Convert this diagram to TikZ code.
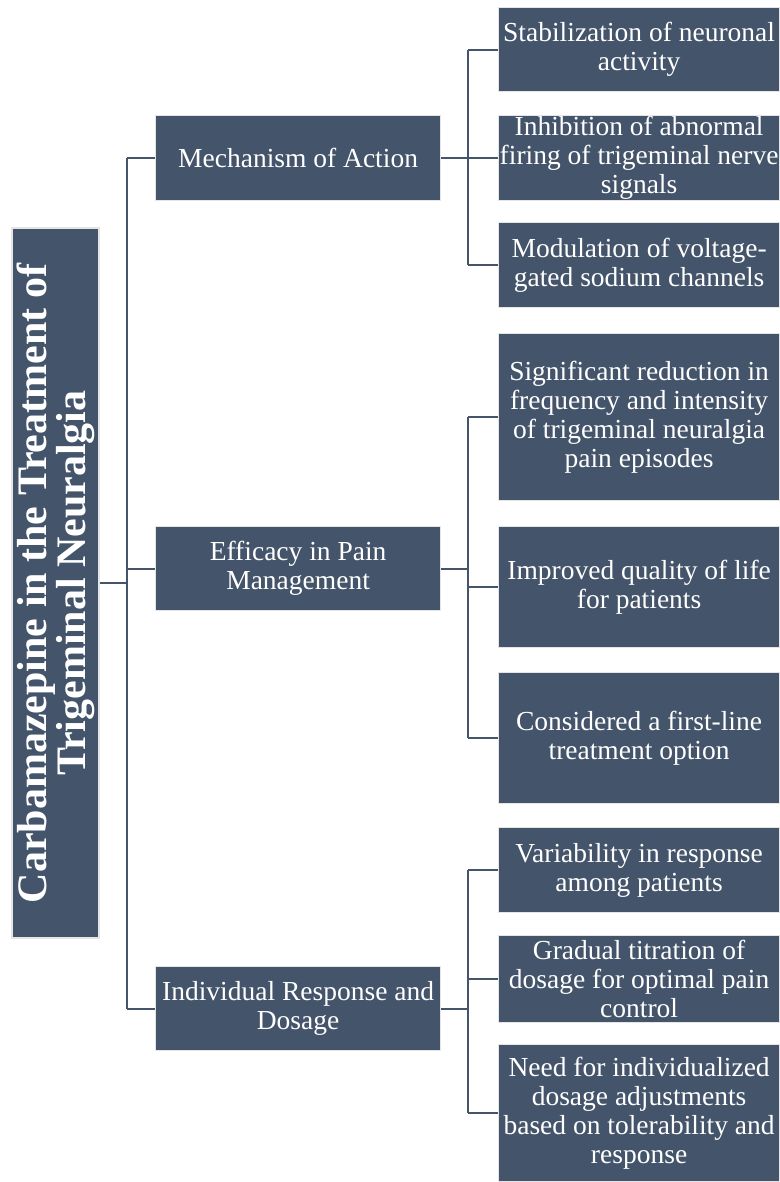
\documentclass[tikz,border=0pt]{standalone}
\usepackage{fontspec}
\setmainfont{Liberation Serif}
\definecolor{boxblue}{HTML}{44546A}
\tikzset{
  box/.style={rectangle, fill=boxblue, draw=gray!20, line width=1.2pt,
    text=white, align=center, inner sep=0pt, anchor=north west,
    font=\fontsize{27.5}{29}\selectfont},
  topic/.style={box, minimum width=285pt},
  leaf/.style={box, minimum width=281pt},
  link/.style={draw=boxblue, line width=2pt}
}
\begin{document}
\begin{tikzpicture}[x=1pt,y=-1pt]
\useasboundingbox (0,0) rectangle (779,1182);

% root
\node[box, anchor=center, rotate=90, minimum width=710pt, minimum height=87pt,
  font=\fontsize{42}{37}\selectfont\bfseries] (root) at (55.5,583)
  {Carbamazepine in the Treatment of\\Trigeminal Neuralgia};

% first level
\node[topic, minimum height=85pt] (mech) at (155,115) {Mechanism of Action};
\node[topic, minimum height=84pt] (effic) at (155,526) {Efficacy in Pain\\Management};
\node[topic, minimum height=84pt] (indiv) at (155,966) {Individual Response and\\Dosage};

% second level
\node[leaf, minimum height=84pt] (stab) at (498,7) {Stabilization of neuronal\\activity};
\node[leaf, minimum height=85pt] (inhib) at (498,115) {Inhibition of abnormal\\firing of trigeminal nerve\\signals};
\node[leaf, minimum height=85pt] (modul) at (498,222) {Modulation of voltage-\\gated sodium channels};
\node[leaf, minimum height=167pt] (signif) at (498,333) {Significant reduction in\\frequency and intensity\\of trigeminal neuralgia\\pain episodes};
\node[leaf, minimum height=121pt] (qual) at (498,526) {Improved quality of life\\for patients};
\node[leaf, minimum height=131pt] (first) at (498,672) {Considered a first-line\\treatment option};
\node[leaf, minimum height=85pt] (var) at (498,827) {Variability in response\\among patients};
\node[leaf, minimum height=87pt] (titr) at (498,935) {Gradual titration of\\dosage for optimal pain\\control};
\node[leaf, minimum height=137pt] (need) at (498,1044) {Need for individualized\\dosage adjustments\\based on tolerability and\\response};

% trunks
\coordinate (t0) at (127,0);
\coordinate (t1) at (468,0);

\draw[link] (root.south) -- (root.south -| t0);
\draw[link] (mech.west -| t0) -- (indiv.west -| t0);
\foreach \n in {mech,effic,indiv}
  \draw[link] (\n.west -| t0) -- (\n.west);

\foreach \p/\a/\b/\c in {mech/stab/inhib/modul, effic/signif/qual/first, indiv/var/titr/need}{
  \draw[link] (\p.east) -- (\p.east -| t1);
  \draw[link] (\a.west -| t1) -- (\c.west -| t1);
  \foreach \k in {\a,\b,\c}
    \draw[link] (\k.west -| t1) -- (\k.west);
}
\end{tikzpicture}
\end{document}
